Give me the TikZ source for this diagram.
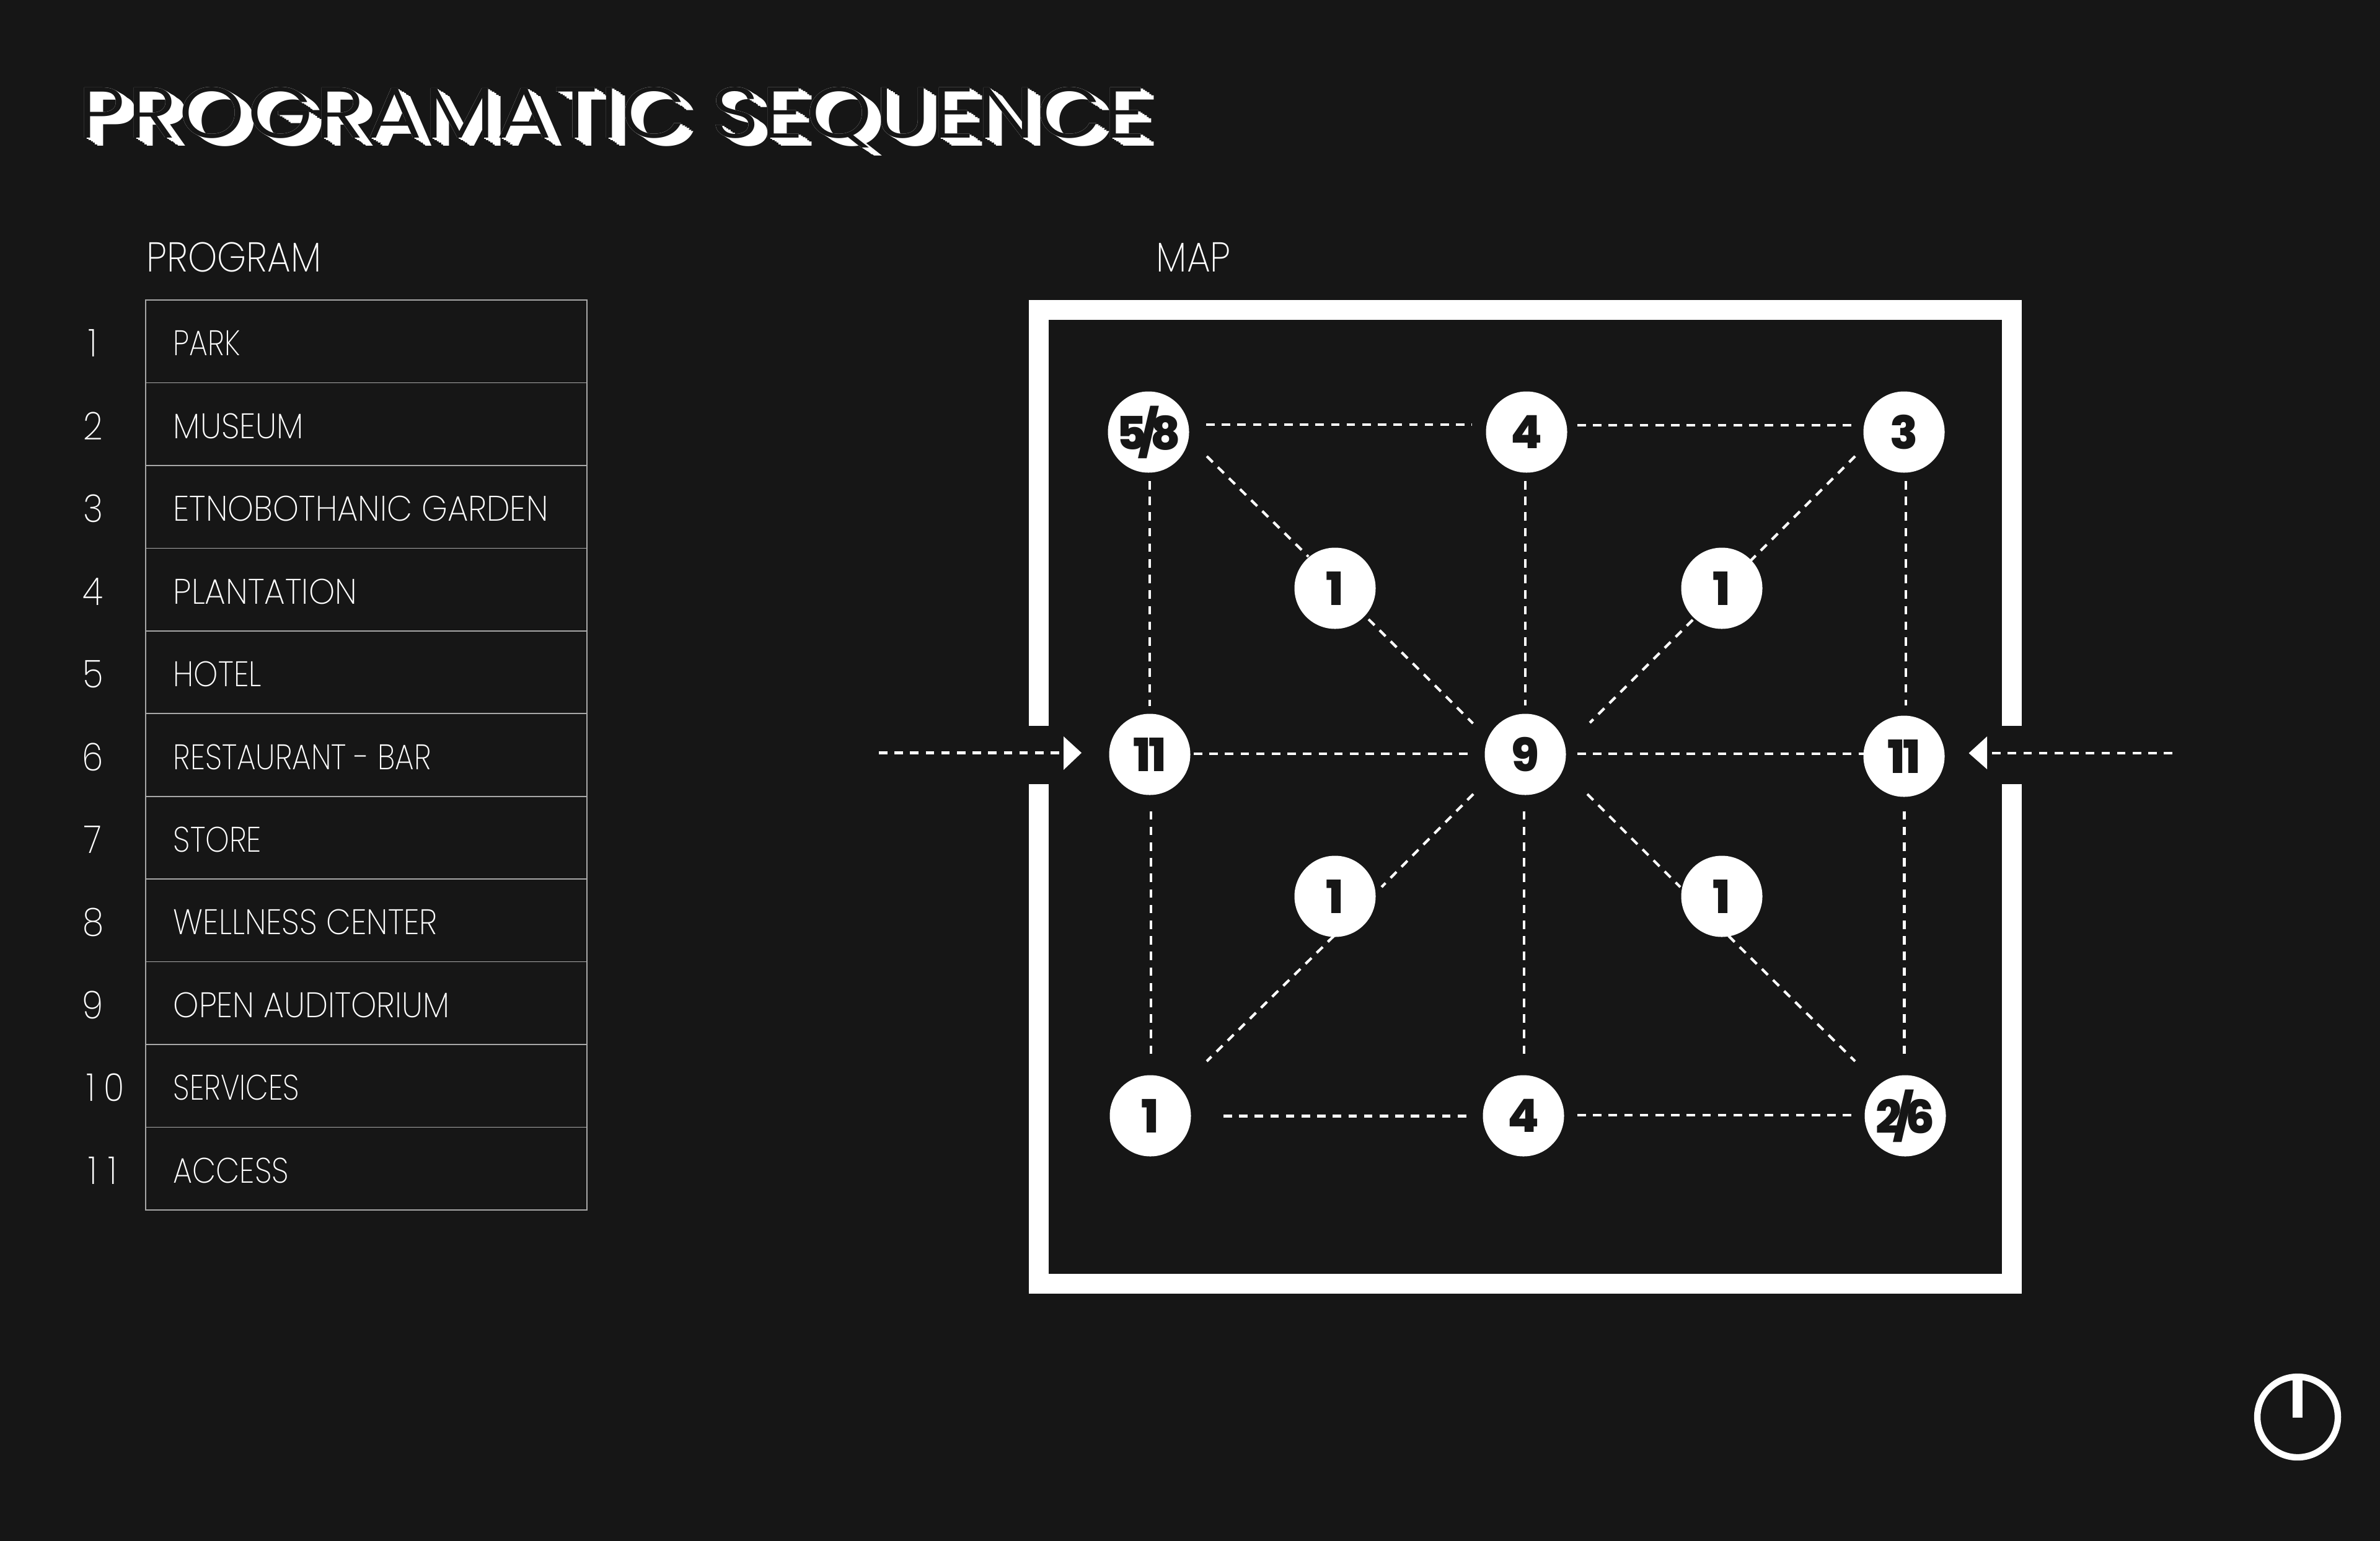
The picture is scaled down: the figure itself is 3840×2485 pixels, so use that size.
\documentclass[tikz,border=0pt]{standalone}
\usepackage{fontspec}
\usetikzlibrary{calc}
\setmainfont{Poppins}
\newfontfamily\lightf{Poppins ExtraLight}[FakeStretch=0.89]
\newfontfamily\boldf{Poppins ExtraBold}
\newfontfamily\titlef{Poppins Light}[FakeStretch=1.17,LetterSpace=3]
\definecolor{bg}{HTML}{161616}
\definecolor{rule}{HTML}{A8A8A8}
\tikzset{
  x=0.25pt,y=-0.25pt,
  conn/.style={draw=white,line width=1.05pt,dash pattern=on 3.4pt off 2.9pt},
  stop/.style={circle,fill=white,text=bg,minimum size=32.75pt,inner sep=0pt,font=\boldf\fontsize{18.5}{18.5}\selectfont},
  rowbox/.style={draw=rule,line width=0.4pt,minimum width=178pt,minimum height=33.375pt,inner sep=0pt},
  rowtext/.style={text=white,anchor=west,inner sep=0pt,font=\lightf\fontsize{14.3}{14.3}\selectfont},
  heading/.style={text=white,anchor=base west,inner sep=0pt,font=\lightf\fontsize{16.8}{16.8}\selectfont},
  framewall/.style={draw=white,line width=8pt,miter limit=10},
  titletext/.style={anchor=base west,inner sep=0pt,font=\titlef\fontsize{29}{29}\selectfont}
}
\newcommand{\titlestr}{PROGRAMATIC SEQUENCE}
\newcommand{\fitw}[2]{\resizebox{#1pt}{\height}{#2}}
\begin{document}
\begin{tikzpicture}
\useasboundingbox (0,0) rectangle (3840,2485);
\fill[bg] (-10,-10) rectangle (3850,2495);

% title: extruded white letters with a knocked-out face
\foreach \k in {0,...,6}
  \node[titletext,text=white] (tcopy\k) at ({125+3.4*\k},{222+2.2*\k}) {\titlestr};
\node[titletext,text=bg] (tface) at (125,222) {\titlestr};

% headings
\node[heading] (hprog) at (236,438) {\fitw{70.4}{PROGRAM}};
\node[heading] (hmap) at (1865,438) {\fitw{30}{MAP}};

% table
\foreach \i/\t/\w in {1/PARK/26.9,2/MUSEUM/52.6,3/ETNOBOTHANIC GARDEN/151.2,4/PLANTATION/74.1,5/HOTEL/35.5,6/RESTAURANT - BAR/104,7/STORE/35.5,8/WELLNESS CENTER/106.5,9/OPEN AUDITORIUM/111.4,10/SERVICES/50.8,11/ACCESS/46.5}{
  \node[rowbox] (row\i) at (591,{484+133.45*(\i-0.5)}) {};
  \node[rowtext] (lab\i) at (279,{487+133.45*(\i-0.5)}) {\fitw{\w}{\t}};
}
\foreach \i/\xx/\s in {1/150/1,2/150/2,3/150/3,4/150/4,5/150/5,6/150/6,7/150/7,8/150/8,9/150/9,10/170/1\kern3.5pt 0,11/166/1\kern4.5pt 1}
  \node[text=white,inner sep=0pt,font=\lightf\fontsize{15.5}{15.5}\selectfont] (num\i) at (\xx,{487+133.45*(\i-0.5)}) {\s};

% map frame
\draw[framewall] (1676,1171) -- (1676,500) -- (3246,500) -- (3246,1171);
\draw[framewall] (1676,1265) -- (1676,2070.5) -- (3246,2070.5) -- (3246,1265);

% stops
\node[stop] (a) at (1853,697) {\makebox[0pt]{5\kern-3.2pt/\kern-3.2pt8}};
\node[stop] (b) at (2463,697) {4};
\node[stop] (c) at (3072,697) {3};
\node[stop] (d) at (2154,949) {1};
\node[stop] (e) at (2778,949) {1};
\node[stop] (f) at (1855,1217) {1\kern-1pt 1};
\node[stop] (g) at (2461,1217) {9};
\node[stop] (h) at (3072,1220) {1\kern-1pt 1};
\node[stop] (i) at (2154,1446) {1};
\node[stop] (j) at (2778,1446) {1};
\node[stop] (k) at (1856,1800) {1};
\node[stop] (l) at (2458,1800) {4};
\node[stop] (m) at (3074,1800) {\makebox[0pt]{2\kern-3.2pt/\kern-3.2pt6}};

% connectors
\draw[conn] ($(a)+(93,-12)$) -- ($(b)+(-88,-12)$);
\draw[conn] ($(b)+(82,-11)$) -- ($(c)+(-76,-11)$);
\draw[conn] ($(a)+(2,79)$) -- ($(f)+(0,-78)$);
\draw[conn] ($(b)+(-2,79)$) -- ($(g)+(0,-79)$);
\draw[conn] ($(c)+(3,79)$) -- ($(h)+(3,-82)$);
\draw[conn] ($(a)+(94,39)$) -- ($(d)+(-43,-51)$);
\draw[conn] ($(d)+(54,50)$) -- ($(g)+(-84.5,-50)$);
\draw[conn] ($(c)+(-79,39)$) -- ($(e)+(47,-45)$);
\draw[conn] ($(e)+(-47,51)$) -- ($(g)+(104,-51)$);
\draw[conn] ($(f)+(71,-1)$) -- ($(g)+(-86,-1)$);
\draw[conn] ($(g)+(84,-1)$) -- ($(h)+(-63,-4)$);
\draw[conn] ($(f)+(2,91.5)$) -- ($(k)+(1,-89)$);
\draw[conn] ($(g)+(-2,91.5)$) -- ($(l)+(1,-89)$);
\draw[conn] ($(h)+(0.5,88.5)$) -- ($(m)+(-1.5,-89)$);
\draw[conn] ($(g)+(-84,64)$) -- ($(i)+(75,-15)$);
\draw[conn] ($(i)+(-2,64)$) -- ($(k)+(91,-88)$);
\draw[conn] ($(g)+(100,64)$) -- ($(j)+(-67,-15)$);
\draw[conn] ($(j)+(11,64)$) -- ($(m)+(-81,-88)$);
\draw[conn] ($(k)+(118,0.5)$) -- ($(l)+(-83,0.5)$);
\draw[conn] ($(l)+(87,-1)$) -- ($(m)+(-78,-1)$);

% entry arrows
\coordinate (inl) at (1418,1214.5);
\coordinate (inr) at (3505,1215);
\draw[conn] (inl) -- ($(f)+(-141,-2.5)$);
\draw[conn] (inr) -- ($(h)+(137,-5)$);
\fill[white] ($(f)+(-139,-29)$) -- ($(f)+(-110,-2.5)$) -- ($(f)+(-139,25)$) -- cycle;
\fill[white] ($(h)+(134,-32)$) -- ($(h)+(104.5,-5)$) -- ($(h)+(134,21)$) -- cycle;

% power mark
\draw[white,line width=2.6pt] (3707,2286) circle (65);
\fill[white] (3698.7,2222) rectangle (3715.3,2287);
\end{tikzpicture}
\end{document}
